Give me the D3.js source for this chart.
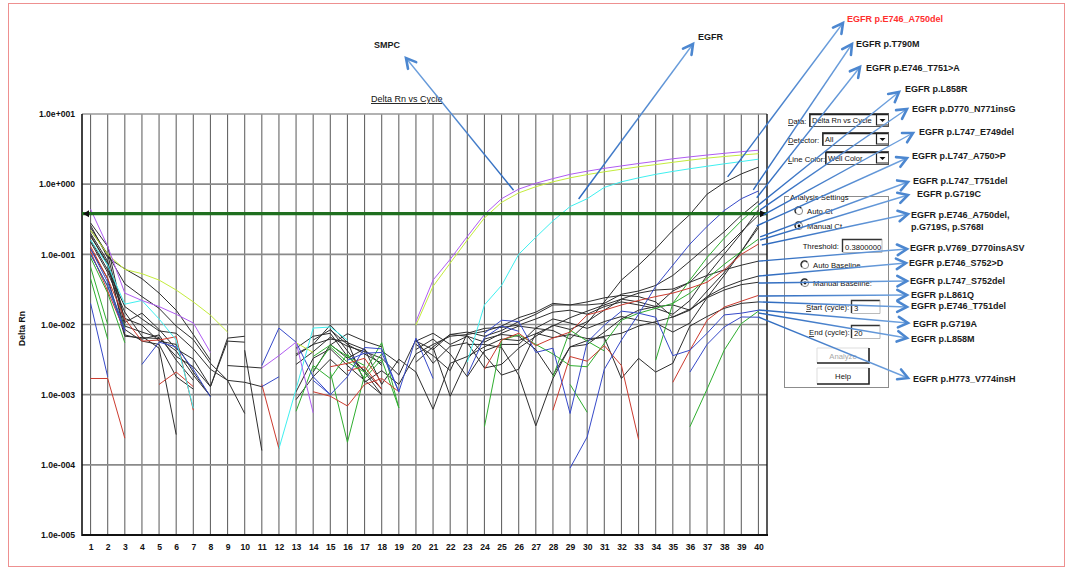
<!DOCTYPE html>
<html>
<head>
<meta charset="utf-8">
<script src="https://cdn.jsdelivr.net/npm/d3@7"></script>
<style>
  body { margin: 0; background: #fff; }
  svg { display: block; font-family: "Liberation Sans", Arial, sans-serif; }
</style>
</head>
<body>
<svg id="chart" width="1068" height="573"></svg>
<script>
// ---- amplification data: Delta Rn per cycle (null = negative / not plotted) ----
const _ = null;
const cycles = d3.range(1, 41);
const yTickValues = [1e-5, 1e-4, 1e-3, 1e-2, 1e-1, 1, 10];
const yTickLabels = ["1.0e-005", "1.0e-004", "1.0e-003", "1.0e-002", "1.0e-001", "1.0e+000", "1.0e+001"];
const threshold = 0.38;

// SMPC control wells
const smpcWellA = [0.44, 0.13, 0.028, 0.022, 0.018, 0.014, 0.0105, 0.004, _, _,
  0.0024, 0.0036, 0.0056, 0.00055, _, _, _, _, _, 0.011,
  0.043, 0.085, 0.18, 0.37, 0.62, 0.85, 1.03, 1.2, 1.38, 1.53,
  1.68, 1.82, 1.97, 2.12, 2.3, 2.45, 2.6, 2.75, 2.9, 3.05];
const smpcWellB = [0.22, 0.1, 0.061, 0.053, 0.043, 0.031, 0.021, 0.0136, 0.0078, _,
  _, _, 0.0055, 0.004, _, _, _, _, _, 0.0098,
  0.035, 0.075, 0.16, 0.33, 0.55, 0.75, 0.92, 1.08, 1.23, 1.37,
  1.5, 1.63, 1.77, 1.9, 2.05, 2.2, 2.35, 2.48, 2.6, 2.72];
// EGFR total
const egfrWell = [0.16, 0.07, 0.0195, 0.022, 0.012, 0.006, 0.00064, _, _, _,
  _, 0.00017, 0.0012, 0.0089, 0.0092, 0.006, _, _, _, _,
  _, _, 0.0029, 0.019, 0.036, 0.1, 0.175, 0.3, 0.48, 0.62,
  0.9, 1.08, 1.23, 1.38, 1.52, 1.66, 1.8, 1.95, 2.1, 2.27];

// mutation wells (black)
const mutK1 = [0.28, 0.13, 0.0107, 0.0145, 0.0085, 0.0045, 0.0032, 0.0013, 0.0064, 0.0068,
  _, _, 0.0036, 0.0052, 0.0098, 0.0055, 0.0044, 0.0026, _, 0.0058,
  0.0075, 0.0052, 0.0068, 0.0056, 0.0075, 0.0095, 0.0088, 0.0082, 0.0062, 0.0105,
  0.021, 0.043, 0.07, 0.12, 0.22, 0.37, 0.72, 1.05, 1.4, 1.75];
const mutK2 = [0.26, 0.09, 0.062, 0.045, 0.028, 0.016, 0.0072, 0.0031, _, 0.0043,
  0.00016, _, 0.0046, 0.0068, 0.0075, 0.0035, 0.0022, 0.0012, _, 0.0029,
  0.0048, 0.0072, 0.0078, 0.0068, 0.0082, 0.011, 0.014, 0.019, 0.019, 0.019,
  0.02, 0.027, 0.03, 0.036, 0.05, 0.08, 0.13, 0.21, 0.36, 0.57];
const mutK3 = [0.2, 0.08, 0.0071, 0.0062, 0.0071, 0.0031, 0.0016, _, 0.0026, 0.0025,
  0.0024, _, 0.0011, 0.0033, 0.0045, 0.0026, 0.0016, 0.001, _, 0.0052,
  0.0036, 0.0022, 0.0075, 0.0088, 0.0091, 0.0098, 0.012, 0.015, 0.016, 0.014,
  0.018, 0.021, 0.019, 0.017, 0.014, 0.022, 0.05, 0.1, 0.2, 0.43];
const mutK4 = [0.18, 0.075, 0.0122, 0.0098, 0.0058, 0.0052, 0.0021, 0.00095, _, _,
  _, _, 0.0027, 0.0041, 0.0066, 0.0049, 0.0041, 0.0033, 0.0019, 0.0061,
  0.0028, 0.0049, 0.0055, 0.0024, 0.0027, 0.0046, 0.0068, 0.0098, 0.0085, 0.011,
  0.016, 0.023, 0.028, 0.031, 0.032, 0.04, 0.07, 0.12, 0.21, 0.36];
const mutK5 = [0.22, 0.1, 0.0095, 0.0078, 0.0065, 0.0035, 0.0025, 0.0013, 0.0058, 0.0056,
  _, _, _, 0.006, 0.0084, 0.0052, 0.0038, 0.0028, _, 0.0044,
  0.0062, 0.0038, 0.0018, 0.0042, 0.0052, 0.0052, 0.0089, 0.012, 0.0105, 0.0088,
  0.011, 0.013, 0.0115, 0.0105, 0.0078, 0.0105, 0.024, 0.05, 0.11, 0.26];
const mutK6 = [0.16, 0.06, 0.018, 0.012, 0.0081, 0.0075, 0.0045, 0.0023, 0.0016, 0.0015,
  0.0013, _, 0.0038, 0.0052, 0.0062, 0.0057, 0.0015, 0.0022, 0.0014, 0.0038,
  0.0052, 0.0068, 0.0072, 0.008, 0.0095, 0.0125, 0.015, 0.02, 0.019, 0.021,
  0.024, 0.026, 0.025, 0.021, 0.0127, 0.016, 0.03, 0.055, 0.11, 0.24];
const mutK7 = [0.15, 0.055, 0.015, 0.0068, 0.0046, 0.00027, _, _, _, _,
  _, _, _, 0.0021, 0.0052, 0.0033, 0.0045, 0.0014, 0.0032, 0.0021,
  0.00062, 0.0028, 0.0035, 0.0048, 0.0062, 0.0059, 0.0074, 0.0095, 0.0125, 0.0155,
  0.019, 0.023, 0.021, 0.018, 0.03, 0.04, 0.05, 0.06, 0.07, 0.08];
const mutK8 = [0.24, 0.1, 0.038, 0.025, 0.017, 0.0095, 0.0061, 0.0028, 0.0016, 0.00054,
  _, _, 0.00085, 0.0018, 0.0032, 0.0019, _, 0.0042, 0.0028, _,
  0.0047, 0.00095, 0.0032, 0.0062, 0.0072, 0.0068, 0.0044, 0.0019, 0.0048, 0.0052,
  0.0078, 0.012, 0.016, 0.018, 0.019, 0.016, 0.025, 0.034, 0.042, 0.049];
const mutK9 = [0.19, 0.07, 0.0085, 0.0058, 0.0052, 0.0018, 0.0012, _, _, _,
  _, _, _, _, 0.0051, 0.0074, 0.0058, 0.0048, _, _,
  _, _, 0.0052, 0.0052, 0.0047, 0.0019, 0.00036, 0.0017, 0.0048, 0.0059,
  0.0068, 0.0075, 0.0095, 0.011, 0.0128, 0.0165, 0.024, 0.031, 0.037, 0.04];
const mutK10 = [0.12, 0.045, 0.0068, 0.0065, 0.0063, 0.0042, 0.0019, 0.00095, _, _,
  _, _, _, _, 0.0086, 0.0042, 0.0021, 0.001, _, 0.0058,
  0.0044, 0.0072, 0.0068, 0.0037, 0.0019, 0.0023, 0.0075, 0.0065, 0.0072, 0.0063,
  0.0065, 0.0017, 0.0033, 0.0021, 0.0028, 0.0095, 0.013, 0.017, 0.02, 0.021];

// mutation wells (green)
const mutG1 = [0.066, 0.01, _, _, _, _, _, _, _, _,
  _, _, 0.00058, 0.0026, 0.0017, 0.0038, 0.0017, 0.0032, 0.00065, _,
  _, _, _, _, _, _, _, _, _, _,
  _, _, _, 0.0031, 0.02, 0.043, 0.09, 0.17, 0.3, 0.5];
const mutG2 = [0.045, 0.0062, _, _, _, _, _, _, _, _,
  _, _, _, 0.0022, 0.0048, 0.0029, 0.0021, 0.0055, 0.00065, _,
  _, _, _, 0.00035, 0.006, 0.0071, 0.0052, 0.0038, 0.0026, 0.0025,
  0.0054, 0.0115, 0.0145, 0.017, 0.02, 0.028, 0.045, 0.072, 0.11, 0.165];
const mutG3 = [0.09, 0.028, 0.0055, _, _, _, _, _, _, _,
  _, _, _, _, 0.0021, 0.00021, 0.0019, 0.0038, _, _,
  _, _, _, _, _, _, _, _, 0.0014, 0.00056,
  _, _, _, _, _, 0.00035, 0.0012, 0.0043, 0.0103, 0.0155];
const mutG4 = [0.1, 0.035, 0.009, _, _, _, _, _, _, _,
  _, _, _, 0.0035, 0.0051, 0.0035, 0.0026, _, _, _,
  _, _, _, _, _, _, _, 0.0018, 0.0083, 0.0058,
  0.0042, _, _, _, _, _, _, _, _, _];

// mutation wells (red)
const mutR1 = [0.0017, 0.0017, 0.00024, _, 0.0014, 0.0021, 0.0013, _, _, _,
  _, _, _, 0.0011, 0.00095, 0.00069, 0.0014, 0.0017, 0.0011, _,
  _, _, _, 0.0023, 0.006, 0.0075, 0.005, 0.0064, 0.0078, 0.0137,
  0.016, 0.019, 0.022, 0.025, 0.028, 0.033, 0.04, 0.06, 0.1, 0.14];
const mutR2 = [0.13, 0.045, 0.012, 0.0058, 0.006, 0.0067, 0.0006, _, _, _,
  0.0014, 0.00017, _, _, 0.0025, 0.0028, 0.0033, 0.0015, _, _,
  _, _, _, _, _, _, _, 0.0006, 0.0035, 0.003,
  0.005, 0.0026, 0.00023, _, _, _, _, _, _, _];
const mutR3 = [0.11, 0.03, 0.008, _, _, _, _, _, _, _,
  _, _, _, _, _, 0.0022, 0.0025, 0.0012, _, _,
  _, _, _, _, _, _, _, _, _, _,
  _, _, _, _, 0.0015, 0.0043, 0.0115, 0.0177, 0.0215, 0.026];

// mutation wells (blue)
const mutB1 = [0.02, 0.0018, _, 0.0027, 0.0056, 0.0048, 0.0023, 0.00093, _, _,
  0.0026, 0.0089, 0.0056, 0.0018, 0.001, _, _, _, _, _,
  _, _, _, _, _, _, _, _, 0.00009, 0.00025,
  0.0023, 0.006, 0.014, 0.035, 0.07, 0.14, 0.25, 0.42, 0.62, 0.8];
const mutB2 = [0.12, 0.04, 0.0085, _, _, _, _, _, _, _,
  0.0013, 0.0018, _, _, _, 0.0031, 0.0039, 0.004, 0.0011, 0.0064,
  0.0017, _, _, 0.0075, 0.0115, 0.011, 0.004, 0.0046, 0.00054, 0.0056,
  0.0098, 0.0155, 0.0145, 0.0127, 0.0036, 0.0043, 0.0075, 0.0137, 0.0145, 0.016];
const mutB3 = [0.1, 0.035, 0.0078, _, _, _, _, _, _, _,
  _, _, _, 0.0016, 0.001, 0.0018, 0.0047, 0.0045, 0.0011, _,
  _, _, 0.0019, 0.0065, 0.0095, 0.008, _, _, _, _,
  _, _, _, _, _, 0.0021, 0.0052, 0.0092, 0.0128, 0.0127];

// well colour groups, in drawing order
const blackWells = [mutK1, mutK2, mutK3, mutK4, mutK5, mutK6, mutK7, mutK8, mutK9, mutK10];
const greenWells = [mutG1, mutG2, mutG3, mutG4];
const redWells = [mutR1, mutR2, mutR3];
const blueWells = [mutB1, mutB2, mutB3];

// callouts: label text, and the (cycle, Delta Rn) point each arrow leaves from
const mutationLabels = ["EGFR p.E746_A750del", "EGFR p.T790M", "EGFR p.E746_T751>A", "EGFR p.L858R",
  "EGFR p.D770_N771insG", "EGFR p.L747_E749del", "EGFR p.L747_A750>P", "EGFR p.L747_T751del",
  "EGFR p.G719C", "EGFR p.E746_A750del,|p.G719S, p.S768I", "EGFR p.V769_D770insASV", "EGFR p.E746_S752>D",
  "EGFR p.L747_S752del", "EGFR p.L861Q", "EGFR p.E746_T751del", "EGFR p.G719A", "EGFR p.L858M",
  "EGFR p.H773_V774insH"];
const anchorCycle = [38.2, 39.7, 39.9, 40.0, 40.1, 40.3, 39.9, 40.1, 40.1, 40.2,
  40.0, 40.0, 40.0, 40.0, 40.0, 40.0, 40.0, 40.0];
const anchorDeltaRn = [1.27, 0.83, 0.64, 0.505, 0.43, 0.364, 0.254, 0.177, 0.16, 0.136,
  0.08, 0.049, 0.039, 0.0255, 0.021, 0.0161, 0.0146, 0.0128];
const targetLabels = ["SMPC", "EGFR"];
const targetCycle = [25.7, 29.5];
const targetDeltaRn = [0.82, 0.615];

// ---- layout ----
const svg = d3.select("#chart");
const plot = { left: 82, right: 767, top: 114, bottom: 535 };
const x = d3.scaleLinear().domain([0.5, 40.5]).range([plot.left, plot.right]);
const y = d3.scaleLog().domain([1e-5, 10]).range([plot.bottom, plot.top]);

// page frame
svg.append("rect").attr("x", 8.5).attr("y", 3.5).attr("width", 1056).attr("height", 563)
  .attr("fill", "none").attr("stroke", "#ee9090").attr("stroke-width", 1);

// grid
const grid = svg.append("g");
grid.selectAll("line.v").data(cycles).join("line")
  .attr("x1", d => x(d)).attr("x2", d => x(d))
  .attr("y1", plot.top).attr("y2", plot.bottom)
  .attr("stroke", "#666").attr("stroke-width", 1.1);
grid.selectAll("line.h").data(yTickValues.slice(1, -1)).join("line")
  .attr("x1", plot.left).attr("x2", plot.right)
  .attr("y1", d => y(d)).attr("y2", d => y(d))
  .attr("stroke", "#8a8a8a").attr("stroke-width", 1.6);
grid.append("line").attr("x1", plot.left).attr("x2", plot.right)
  .attr("y1", plot.top).attr("y2", plot.top).attr("stroke", "#999").attr("stroke-width", 1.4);

// axes
const yAxis = svg.append("g").attr("transform", `translate(${plot.left},0)`)
  .call(d3.axisLeft(y).tickValues(yTickValues).tickFormat((d, i) => yTickLabels[i]).tickSize(0).tickPadding(7));
const xAxis = svg.append("g").attr("transform", `translate(0,${plot.bottom})`)
  .call(d3.axisBottom(x).tickValues(cycles).tickFormat(d3.format("d")).tickSize(0).tickPadding(9));
[yAxis, xAxis].forEach(g => {
  g.select(".domain").remove();
  g.selectAll("text").attr("font-family", "Liberation Sans, Arial, sans-serif")
    .attr("font-size", 8.6).attr("font-weight", "bold").attr("fill", "#111");
});
svg.append("line").attr("x1", plot.left).attr("x2", plot.left).attr("y1", plot.top).attr("y2", plot.bottom + 1)
  .attr("stroke", "#111").attr("stroke-width", 1.6);
svg.append("line").attr("x1", plot.left).attr("x2", plot.right + 1).attr("y1", plot.bottom).attr("y2", plot.bottom)
  .attr("stroke", "#111").attr("stroke-width", 2);
svg.append("line").attr("x1", plot.right).attr("x2", plot.right).attr("y1", plot.top).attr("y2", plot.bottom)
  .attr("stroke", "#111").attr("stroke-width", 1.4);

svg.append("text").attr("transform", `translate(25,${(plot.top + plot.bottom) / 2 + 4}) rotate(-90)`)
  .attr("text-anchor", "middle").attr("font-size", 8.6).attr("font-weight", "bold").attr("fill", "#111")
  .text("Delta Rn");
svg.append("text").attr("x", 371).attr("y", 102).attr("font-size", 9).attr("fill", "#111")
  .attr("text-decoration", "underline").text("Delta Rn vs Cycle");

// amplification curves
const line = d3.line().defined(d => d != null).x((d, i) => x(cycles[i])).y(d => y(d));
const curves = svg.append("g").attr("fill", "none").attr("stroke-width", 1).attr("stroke-linejoin", "round");
const groups = [
  [blackWells, "#2e2e2e"], [greenWells, "#2fae2f"], [redWells, "#cc3b2f"], [blueWells, "#3649c9"],
  [[egfrWell], "#3ff0f0"], [[smpcWellB], "#c4ec3c"], [[smpcWellA], "#b05cf2"]
];
groups.forEach(([wells, color]) => {
  wells.forEach(vals => {
    curves.append("path").attr("d", line(vals)).attr("stroke", color);
  });
});

// threshold
const yT = y(threshold);
svg.append("line").attr("x1", plot.left).attr("x2", plot.right).attr("y1", yT).attr("y2", yT)
  .attr("stroke", "#1f6f1f").attr("stroke-width", 3.2);
svg.append("path").attr("d", `M${plot.left + 7},${yT - 3.5}L${plot.left + 1},${yT}L${plot.left + 7},${yT + 3.5}Z`).attr("fill", "#111");
svg.append("path").attr("d", `M${plot.right - 7},${yT - 3.5}L${plot.right},${yT}L${plot.right - 7},${yT + 3.5}Z`).attr("fill", "#111");

// ---- analysis panel ----
const ui = svg.append("g").attr("font-size", 7.7).attr("fill", "#111");
function mnemonic(xp, yp, first, rest) {
  const t = ui.append("text").attr("x", xp).attr("y", yp);
  t.append("tspan").attr("text-decoration", "underline").text(first);
  t.append("tspan").text(rest);
}
function dropdown(x0, y0, x1, y1, value) {
  ui.append("rect").attr("x", x0 + 0.5).attr("y", y0 + 0.5).attr("width", x1 - x0).attr("height", y1 - y0)
    .attr("fill", "#fff").attr("stroke", "#555");
  ui.append("path").attr("d", `M${x0 + 1},${y1}V${y0 + 1.5}H${x1}`).attr("fill", "none").attr("stroke", "#222").attr("stroke-width", 1.3);
  ui.append("path").attr("d", `M${x1 - 11.5},${y0 + 2}V${y1 - 1}H${x1}`).attr("fill", "none").attr("stroke", "#222").attr("stroke-width", 1.2);
  const cx = x1 - 5.5, cy = (y0 + y1) / 2 + 1;
  ui.append("path").attr("d", `M${cx - 3},${cy - 1.5}H${cx + 3}L${cx},${cy + 1.5}Z`).attr("fill", "#111");
  ui.append("text").attr("x", x0 + 3).attr("y", y1 - 3).attr("font-size", 7.5).text(value);
}
function field(x0, y0, x1, y1, value) {
  ui.append("path").attr("d", `M${x0 + 0.5},${y1}V${y0 + 0.5}H${x1}`).attr("fill", "none").attr("stroke", "#333").attr("stroke-width", 1.4);
  ui.append("path").attr("d", `M${x0 + 0.5},${y1 + 0.5}H${x1}V${y0}`).attr("fill", "none").attr("stroke", "#aaa").attr("stroke-width", 0.8);
  ui.append("text").attr("x", x0 + 3).attr("y", y1 - 2.5).text(value);
}
function radio(cx, cy, checked, label) {
  ui.append("circle").attr("cx", cx).attr("cy", cy).attr("r", 3.6).attr("fill", "#fff").attr("stroke", "#888");
  ui.append("path").attr("d", `M${cx - 3},${cy + 2.2}A3.6,3.6 0 0 1 ${cx + 2.2},${cy - 3}`).attr("fill", "none").attr("stroke", "#222").attr("stroke-width", 1.2);
  if (checked) ui.append("circle").attr("cx", cx).attr("cy", cy).attr("r", 1.4).attr("fill", "#111");
  ui.append("text").attr("x", cx + 8).attr("y", cy + 3).text(label);
}
function button(x0, y0, x1, y1, label, enabled) {
  ui.append("path").attr("d", `M${x0},${y1}V${y0}H${x1}`).attr("fill", "none").attr("stroke", "#ddd");
  ui.append("path").attr("d", `M${x0},${y1}H${x1}V${y0}`).attr("fill", "none").attr("stroke", "#222").attr("stroke-width", 1.6);
  ui.append("text").attr("x", (x0 + x1) / 2).attr("y", (y0 + y1) / 2 + 3).attr("text-anchor", "middle")
    .attr("fill", enabled ? "#111" : "#a8a8a8").text(label);
}

mnemonic(788, 124, "D", "ata:");
dropdown(809, 113, 888, 126, "Delta Rn vs Cycle");
mnemonic(788, 143, "D", "etector:");
dropdown(822, 132, 888, 145, "All");
mnemonic(788, 162, "L", "ine Color:");
dropdown(825, 151, 888, 164, "Well Color");

ui.append("rect").attr("x", 784.5).attr("y", 196.5).attr("width", 104).attr("height", 191)
  .attr("fill", "none").attr("stroke", "#8c8c8c");
ui.append("rect").attr("x", 789).attr("y", 192).attr("width", 56).attr("height", 8).attr("fill", "#fff");
ui.append("text").attr("x", 790).attr("y", 199.5).text("Analysis Settings");
radio(799, 211, false, "Auto Ct");
radio(799, 226, true, "Manual Ct");
ui.append("text").attr("x", 839).attr("y", 249).attr("text-anchor", "end").text("Threshold:");
field(842, 239, 882, 252, "0.3800000");
radio(805, 265, false, "Auto Baseline");
radio(805, 283, true, "Manual Baseline:");
mnemonic(806, 310, "S", "tart (cycle):");
field(851, 300, 880, 313, "3");
mnemonic(809, 335, "E", "nd (cycle):");
field(851, 325, 880, 338, "20");
button(817, 348, 869, 363, "Analyze", false);
button(817, 368, 869, 384, "Help", true);

// ---- callout arrows ----
const defs = svg.append("defs");
const arrows = svg.append("g");
function arrow(x1, y1, x2, y2, id) {
  const gid = "grad" + id;
  const grad = defs.append("linearGradient").attr("id", gid).attr("gradientUnits", "userSpaceOnUse")
    .attr("x1", x1).attr("y1", y1).attr("x2", x2).attr("y2", y2);
  grad.append("stop").attr("offset", 0).attr("stop-color", "#2a67bd");
  grad.append("stop").attr("offset", 1).attr("stop-color", "#72a4df");
  arrows.append("line").attr("x1", x1).attr("y1", y1).attr("x2", x2).attr("y2", y2)
    .attr("stroke", `url(#${gid})`).attr("stroke-width", 1.4);
  const a = Math.atan2(y2 - y1, x2 - x1), L = 11, th = 0.5;
  const p1 = [x2 - L * Math.cos(a - th), y2 - L * Math.sin(a - th)];
  const p2 = [x2 - L * Math.cos(a + th), y2 - L * Math.sin(a + th)];
  arrows.append("path").attr("d", `M${p1[0]},${p1[1]}L${x2},${y2}L${p2[0]},${p2[1]}`)
    .attr("fill", "none").attr("stroke", "#4c87d0").attr("stroke-width", 2.6)
    .attr("stroke-linejoin", "miter").attr("stroke-linecap", "round");
}

// arrow tips and label positions for the mutation callouts
const calloutTips = [[843, 23], [852, 44], [860, 67], [899, 92], [907, 109], [913, 133], [907, 158], [908, 182],
  [908, 195], [908, 214], [907, 249], [906, 263], [907, 281], [907, 295], [907, 307], [908, 323], [907, 338], [908, 378]];
const calloutText = [[847, 22], [856, 47], [866, 71], [905, 92], [912, 112], [919, 135], [912, 159], [913, 184],
  [917, 197], [911, 218], [910, 251], [909, 266], [910, 284], [911, 298], [911, 309], [913, 327], [911, 342], [913, 382]];

mutationLabels.forEach((lab, i) => {
  arrow(x(anchorCycle[i]), y(anchorDeltaRn[i]), calloutTips[i][0], calloutTips[i][1], "m" + i);
});
targetLabels.forEach((lab, i) => {
  const tip = i === 0 ? [406, 58] : [693, 44];
  arrow(x(targetCycle[i]), y(targetDeltaRn[i]), tip[0], tip[1], "t" + i);
});

const labels = svg.append("g").attr("font-size", 9).attr("font-weight", "bold").attr("fill", "#1a1a1a");
mutationLabels.forEach((lab, i) => {
  const parts = lab.split("|");
  const t = labels.append("text").attr("x", calloutText[i][0]).attr("y", calloutText[i][1])
    .attr("fill", i === 0 ? "#ff2f2f" : "#1a1a1a");
  parts.forEach((p, j) => {
    t.append("tspan").attr("x", calloutText[i][0]).attr("dy", j === 0 ? 0 : 11.5).text(p);
  });
});
labels.append("text").attr("x", 374).attr("y", 48).text(targetLabels[0]);
labels.append("text").attr("x", 698).attr("y", 40).text(targetLabels[1]);
</script>
</body>
</html>
